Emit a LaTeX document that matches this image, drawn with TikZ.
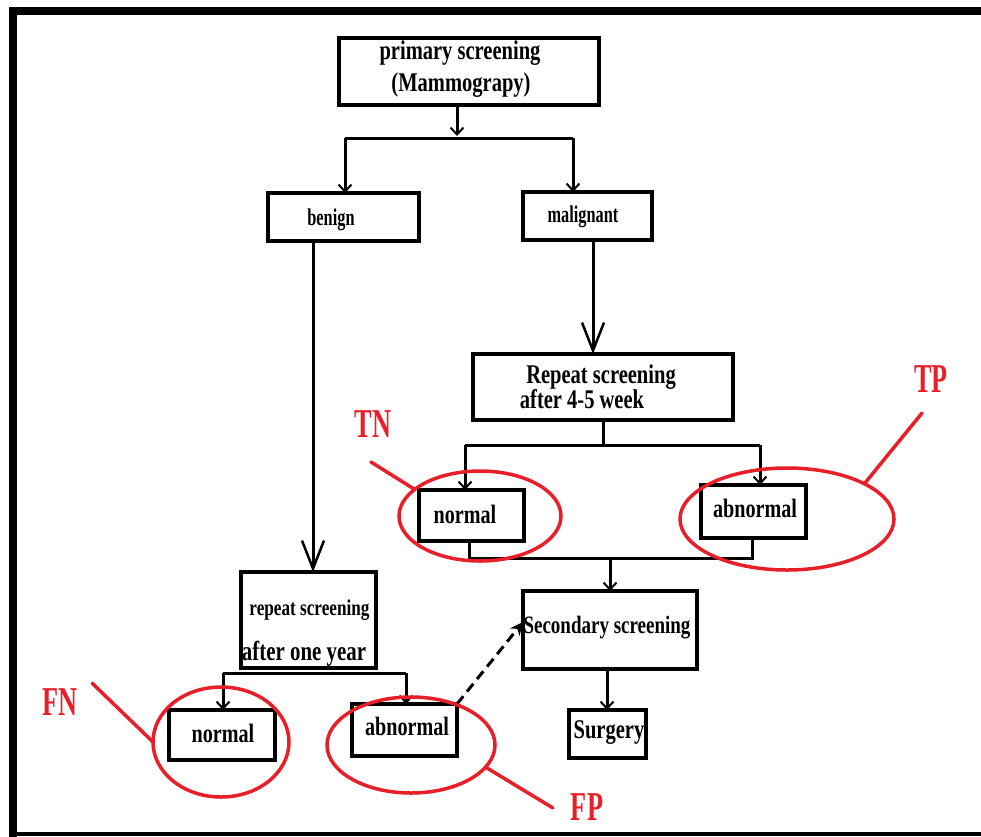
\documentclass[tikz,border=0pt]{standalone}
\usepackage{fontspec}
\setmainfont{Liberation Serif}
\newfontfamily\nf[FakeStretch=0.76]{Liberation Serif}
\newfontfamily\nfn[FakeStretch=0.68]{Liberation Serif}
\newfontfamily\lf[FakeStretch=0.64]{Liberation Serif}
\usetikzlibrary{arrows.meta,calc}
\definecolor{annred}{RGB}{232,30,40}
\newcommand\fsz[1]{\fontsize{#1}{#1}\selectfont}
\tikzset{
  box/.style={draw, line width=4pt, inner sep=0pt, outer sep=0pt},
  link/.style={line width=3pt},
  sa/.style={-{Straight Barb[length=7pt,width=13pt,line width=2pt]}},
  ba/.style={-{Straight Barb[length=28pt,width=22pt,line width=2.5pt]}},
  txt/.style={anchor=base, inner sep=0pt, font=\nf\bfseries},
  ann/.style={annred, line width=3.5pt, line cap=round},
  lab/.style={anchor=base, inner sep=0pt, text=annred, font=\lf\bfseries\fsz{41}},
}
\begin{document}
\begin{tikzpicture}[x=1pt,y=-1pt]
\useasboundingbox (0,0) rectangle (981,836);
\fill[white] (0,0) rectangle (981,836);
% frame
\draw[line width=8pt] (13,845) -- (13,11) -- (990,11);
\draw[line width=4pt] (9,834) -- (990,834);

% boxes
\node[box, minimum width=260pt, minimum height=67pt] (prim) at (469,71.5) {};
\node[box, minimum width=151pt, minimum height=48pt] (benign) at (343.5,217) {};
\node[box, minimum width=129pt, minimum height=48pt] (malig) at (587.5,216) {};
\node[box, minimum width=260pt, minimum height=66pt] (rep45) at (603,387) {};
\node[box, minimum width=105pt, minimum height=51pt] (n1) at (471.5,515.5) {};
\node[box, minimum width=105pt, minimum height=53pt] (a1) at (753.5,511.5) {};
\node[box, minimum width=174pt, minimum height=78pt] (sec) at (610,630) {};
\node[box, minimum width=77pt, minimum height=48pt] (surg) at (607.5,734) {};
\node[box, minimum width=135pt, minimum height=96pt] (rep1) at (308.5,620) {};
\node[box, minimum width=106pt, minimum height=50pt] (n2) at (222,735) {};
\node[box, minimum width=105pt, minimum height=52pt] (a2) at (404.5,730) {};

% texts
\node[txt, font=\nf\bfseries\fsz{27}] (primA) at (460,59) {primary screening};
\node[txt, font=\nf\bfseries\fsz{27}] (primB) at (461,91) {(Mammograpy)};
\node[txt, font=\nfn\bfseries\fsz{24}] (benignT) at (331,225) {benign};
\node[txt, font=\nfn\bfseries\fsz{24}] (maligT) at (583,222) {malignant};
\node[txt, font=\nf\bfseries\fsz{27}] (rep45A) at (601,383) {Repeat screening};
\node[txt, font=\nf\bfseries\fsz{27}] (rep45B) at (582,408) {after 4-5 week};
\node[txt, font=\nf\bfseries\fsz{26.5}] (n1T) at (465,523) {normal};
\node[txt, font=\nf\bfseries\fsz{26.5}] (a1T) at (755,517) {abnormal};
\node[txt, font=\nf\bfseries\fsz{25}] (secT) at (607,633) {Secondary screening};
\node[txt, font=\nf\bfseries\fsz{27}] (surgT) at (609,738) {Surgery};
\node[txt, font=\nf\bfseries\fsz{22.6}] (rep1A) at (309.5,615) {repeat screening};
\node[txt, font=\nf\bfseries\fsz{27.5}] (rep1B) at (304,660) {after one year};
\node[txt, font=\nf\bfseries\fsz{26.5}] (n2T) at (223,742) {normal};
\node[txt, font=\nf\bfseries\fsz{26.5}] (a2T) at (407,735) {abnormal};

% connectors
\coordinate (j1) at (457,136);
\coordinate (jl) at (345,138);
\coordinate (jr) at (573,138);
\draw[link,sa] (prim.south -| j1) -- (j1);
\draw[link] (jl) -- (jr);
\draw[link,sa] (jl) -- (jl |- benign.north);
\draw[link,sa] (jr) -- (jr |- malig.north);

\coordinate (xb) at (313,0);
\coordinate (xm) at (593,0);
\draw[link,ba] (benign.south -| xb) -- (rep1.north -| xb);
\draw[link,ba] (malig.south -| xm) -- (rep45.north -| xm);

\coordinate (k) at (603,445);
\coordinate (kl) at (465,445);
\coordinate (kr) at (760,445);
\draw[link] (rep45.south -| k) -- (k);
\draw[link] (kl) -- (kr);
\draw[link,sa] (kl) -- (kl |- n1.north);
\draw[link,sa] (kr) -- (kr |- a1.north);

\coordinate (m) at (610,558);
\coordinate (ml) at (469,558);
\coordinate (mr) at (752,558);
\draw[link] (n1.south -| ml) -- (ml) -- (mr) -- (a1.south -| mr);
\draw[link,sa] (m) -- (sec.north -| m);

\coordinate (xs) at (607,0);
\draw[link,sa] (sec.south -| xs) -- (surg.north -| xs);

\coordinate (r) at (223,673);
\coordinate (rr) at (406,673);
\draw[link] (r) -- (rr);
\draw[link,sa] (r) -- (r |- n2.north);
\draw[link,sa] (rr) -- (rr |- a2.north);

\draw[link, dash pattern=on 10pt off 6pt, -{Stealth[length=13pt,width=12pt]}] (a2.north east) -- ($(sec.west)+(0,-8)$);

% annotations
\draw[ann] (480,516) ellipse [x radius=81pt, y radius=45pt];
\draw[ann] (787,519) ellipse [x radius=107pt, y radius=51pt];
\draw[ann] (221,742) ellipse [x radius=68pt, y radius=55pt];
\draw[ann] (411,745) ellipse [x radius=84pt, y radius=48pt];
\draw[ann] (371,462) -- (414,489);
\draw[ann] (922,413) -- (865,483);
\draw[ann] (92,683) -- (153,742);
\draw[ann] (487,768) -- (553,808);

\node[lab] (tn) at (373,437) {TN};
\node[lab] (tp) at (931,392) {TP};
\node[lab] (fn) at (60,715) {FN};
\node[lab] (fp) at (587,820) {FP};
\end{tikzpicture}
\end{document}
